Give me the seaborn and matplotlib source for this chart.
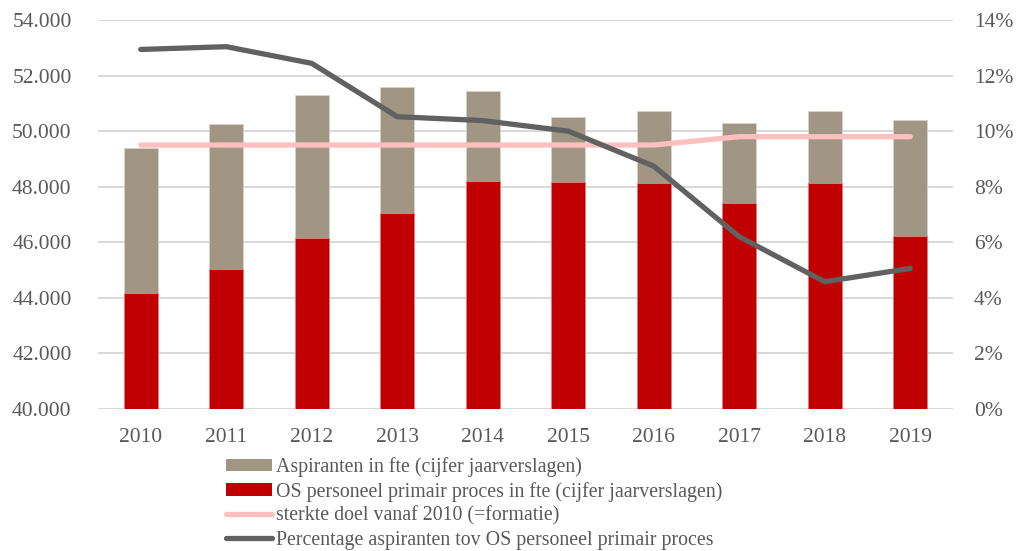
import numpy as np
import pandas as pd
import matplotlib
matplotlib.use("Agg")
import matplotlib.pyplot as plt
from matplotlib.ticker import FuncFormatter, MultipleLocator
from matplotlib.patches import Patch
from matplotlib.lines import Line2D
import seaborn as sns

years = ["2010", "2011", "2012", "2013", "2014", "2015", "2016", "2017", "2018", "2019"]
os_personeel = [44160, 45030, 46170, 47040, 48220, 48160, 48140, 47400, 48140, 46240]
aspiranten = [5220, 5230, 5130, 4550, 3210, 2340, 2590, 2890, 2590, 4150]
sterkte_doel = [49500, 49500, 49500, 49500, 49500, 49500, 49500, 49800, 49800, 49800]
percentage = [12.94, 13.04, 12.44, 10.52, 10.38, 10.00, 8.74, 6.20, 4.58, 5.06]

labels = [
    "Aspiranten in fte (cijfer jaarverslagen)",
    "OS personeel primair proces in fte (cijfer jaarverslagen)",
    "sterkte doel vanaf 2010 (=formatie)",
    "Percentage aspiranten tov OS personeel primair proces",
]

c_gray = "#A09683"
c_red = "#C00000"
c_pink = "#FFBFBF"
c_dark = "#616161"
c_text = "#595959"
c_grid = "#D9D9D9"

sns.set_theme(style="white")
plt.rcParams["font.family"] = ["Liberation Serif", "DejaVu Serif"]
fs = 15.5

df = pd.DataFrame({
    "year": years,
    "os": os_personeel,
    "asp": aspiranten,
    "doel": sterkte_doel,
    "pct": percentage,
})
df["total"] = df["os"] + df["asp"]
df["idx"] = np.arange(len(df))

fig = plt.figure(figsize=(10.18, 5.51), dpi=100)
ax = fig.add_axes([98 / 1018, 1 - 409 / 551, (953 - 98) / 1018, (409 - 20) / 551])

sns.barplot(data=df, x="year", y="total", color=c_gray, width=0.4, saturation=1,
            edgecolor="#D8D2C8", linewidth=0.6, ax=ax, zorder=2)
sns.barplot(data=df, x="year", y="os", color=c_red, width=0.4, saturation=1,
            edgecolor="#E88080", linewidth=0.6, ax=ax, zorder=3)
sns.lineplot(data=df, x="idx", y="doel", color=c_pink, linewidth=3.8, ax=ax,
             zorder=4, solid_capstyle="round", solid_joinstyle="round")

ax.set_ylim(40000, 54000)
ax.set_xlim(-0.5, len(years) - 0.5)
ax.yaxis.set_major_locator(MultipleLocator(2000))
ax.yaxis.set_major_formatter(FuncFormatter(lambda v, p: f"{int(v):,}".replace(",", ".")))
ax.grid(axis="y", color=c_grid, linewidth=1.5, zorder=0)
ax.set_axisbelow(True)
ax.set_xlabel("")
ax.set_ylabel("")
ax.set_xticks(range(len(years)))
ax.set_xticklabels(years)
for s in ax.spines.values():
    s.set_visible(False)
ax.tick_params(axis="both", length=0, labelsize=fs, colors=c_text)
ax.tick_params(axis="x", pad=14)
ax.tick_params(axis="y", pad=19)

ax2 = ax.twinx()
sns.lineplot(data=df, x="idx", y="pct", color=c_dark, linewidth=3.8, ax=ax2,
             solid_capstyle="round", solid_joinstyle="round")
ax2.set_ylim(0, 14)
ax2.yaxis.set_major_locator(MultipleLocator(2))
ax2.yaxis.set_major_formatter(FuncFormatter(lambda v, p: f"{int(round(v))}%"))
ax2.set_ylabel("")
ax2.grid(False)
for s in ax2.spines.values():
    s.set_visible(False)
ax2.tick_params(axis="y", length=0, labelsize=fs, colors=c_text, pad=15)
ax2.set_xlim(-0.5, len(years) - 0.5)

handles = [
    Patch(facecolor=c_gray, edgecolor="none"),
    Patch(facecolor=c_red, edgecolor="none"),
    Line2D([0], [0], color=c_pink, linewidth=3.8, solid_capstyle="round"),
    Line2D([0], [0], color=c_dark, linewidth=3.8, solid_capstyle="round"),
]
lfs = 14.3
leg = fig.legend(handles, labels, loc="upper left", bbox_to_anchor=(226 / 1018, 1 - 457 / 551),
                 frameon=False, fontsize=lfs, handlelength=2.3, handleheight=0.6,
                 handletextpad=0.2, labelspacing=0.24, borderpad=0, borderaxespad=0)
for t in leg.get_texts():
    t.set_color(c_text)

fig.savefig("out.png", dpi=100)
